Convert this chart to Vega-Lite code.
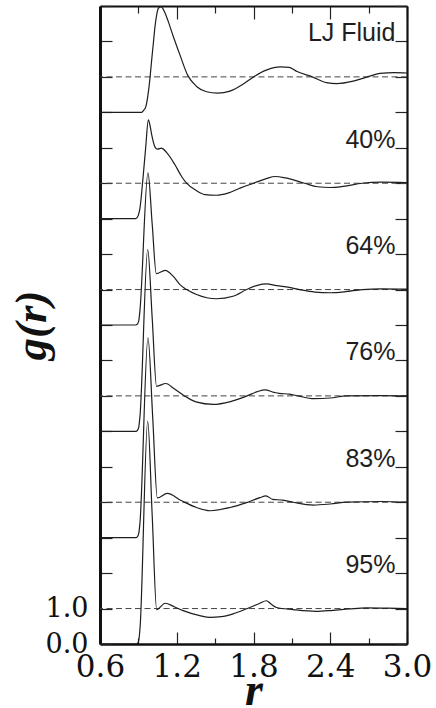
{
  "$schema": "https://vega.github.io/schema/vega-lite/v6.json",
  "width": 307,
  "height": 638,
  "autosize": {"type": "none"},
  "padding": {"left": 100, "top": 6, "right": 29, "bottom": 64},
  "background": "white",
  "config": {
    "view": {"stroke": null},
    "axis": {"grid": false, "domainColor": "#111", "tickColor": "#222", "tickWidth": 1.2, "labelColor": "#111", "titleColor": "#111", "labelOverlap": false, "labelFlush": false}
  },
  "datasets": {
    "series": [
      {"series": "LJ Fluid", "unity": 16, "tag": 17},
      {"series": "40%", "unity": 13, "tag": 14},
      {"series": "64%", "unity": 10, "tag": 11},
      {"series": "76%", "unity": 7, "tag": 8},
      {"series": "83%", "unity": 4, "tag": 5},
      {"series": "95%", "unity": 1, "tag": 2}
    ],
    "curves": [
      {"series": "LJ Fluid", "r": 0.6, "value": 15},
      {"series": "LJ Fluid", "r": 0.9, "value": 15},
      {"series": "LJ Fluid", "r": 0.926, "value": 15.0},
      {"series": "LJ Fluid", "r": 0.94, "value": 15.05},
      {"series": "LJ Fluid", "r": 0.959, "value": 15.17},
      {"series": "LJ Fluid", "r": 0.977, "value": 15.54},
      {"series": "LJ Fluid", "r": 0.991, "value": 15.98},
      {"series": "LJ Fluid", "r": 1.004, "value": 16.48},
      {"series": "LJ Fluid", "r": 1.017, "value": 16.95},
      {"series": "LJ Fluid", "r": 1.03, "value": 17.42},
      {"series": "LJ Fluid", "r": 1.043, "value": 17.75},
      {"series": "LJ Fluid", "r": 1.056, "value": 17.93},
      {"series": "LJ Fluid", "r": 1.077, "value": 17.98},
      {"series": "LJ Fluid", "r": 1.105, "value": 17.83},
      {"series": "LJ Fluid", "r": 1.134, "value": 17.56},
      {"series": "LJ Fluid", "r": 1.173, "value": 17.14},
      {"series": "LJ Fluid", "r": 1.225, "value": 16.62},
      {"series": "LJ Fluid", "r": 1.285, "value": 16.05},
      {"series": "LJ Fluid", "r": 1.355, "value": 15.73},
      {"series": "LJ Fluid", "r": 1.433, "value": 15.58},
      {"series": "LJ Fluid", "r": 1.52, "value": 15.54},
      {"series": "LJ Fluid", "r": 1.616, "value": 15.6},
      {"series": "LJ Fluid", "r": 1.72, "value": 15.8},
      {"series": "LJ Fluid", "r": 1.8, "value": 16.0},
      {"series": "LJ Fluid", "r": 1.9, "value": 16.19},
      {"series": "LJ Fluid", "r": 2.01, "value": 16.28},
      {"series": "LJ Fluid", "r": 2.08, "value": 16.27},
      {"series": "LJ Fluid", "r": 2.14, "value": 16.15},
      {"series": "LJ Fluid", "r": 2.26, "value": 16.0},
      {"series": "LJ Fluid", "r": 2.37, "value": 15.84},
      {"series": "LJ Fluid", "r": 2.45, "value": 15.81},
      {"series": "LJ Fluid", "r": 2.58, "value": 15.88},
      {"series": "LJ Fluid", "r": 2.69, "value": 16.0},
      {"series": "LJ Fluid", "r": 2.79, "value": 16.1},
      {"series": "LJ Fluid", "r": 2.9, "value": 16.12},
      {"series": "LJ Fluid", "r": 3.0, "value": 16.11},

      {"series": "40%", "r": 0.6, "value": 12},
      {"series": "40%", "r": 0.875, "value": 12},
      {"series": "40%", "r": 0.89, "value": 12.03},
      {"series": "40%", "r": 0.9, "value": 12.1},
      {"series": "40%", "r": 0.9125, "value": 12.3},
      {"series": "40%", "r": 0.935, "value": 13.1},
      {"series": "40%", "r": 0.957, "value": 14.0},
      {"series": "40%", "r": 0.978, "value": 14.79},
      {"series": "40%", "r": 0.99, "value": 14.65},
      {"series": "40%", "r": 1.004, "value": 14.37},
      {"series": "40%", "r": 1.03, "value": 14.02},
      {"series": "40%", "r": 1.05, "value": 13.96},
      {"series": "40%", "r": 1.08, "value": 13.99},
      {"series": "40%", "r": 1.12, "value": 13.87},
      {"series": "40%", "r": 1.186, "value": 13.52},
      {"series": "40%", "r": 1.238, "value": 13.19},
      {"series": "40%", "r": 1.277, "value": 13.0},
      {"series": "40%", "r": 1.35, "value": 12.8},
      {"series": "40%", "r": 1.42, "value": 12.68},
      {"series": "40%", "r": 1.51, "value": 12.66},
      {"series": "40%", "r": 1.6, "value": 12.72},
      {"series": "40%", "r": 1.7, "value": 12.87},
      {"series": "40%", "r": 1.8, "value": 13.0},
      {"series": "40%", "r": 1.9, "value": 13.13},
      {"series": "40%", "r": 1.97, "value": 13.19},
      {"series": "40%", "r": 2.05, "value": 13.15},
      {"series": "40%", "r": 2.2, "value": 13.0},
      {"series": "40%", "r": 2.3, "value": 12.9},
      {"series": "40%", "r": 2.4, "value": 12.88},
      {"series": "40%", "r": 2.5, "value": 12.91},
      {"series": "40%", "r": 2.65, "value": 13.0},
      {"series": "40%", "r": 2.8, "value": 13.03},
      {"series": "40%", "r": 3.0, "value": 13.02},

      {"series": "64%", "r": 0.6, "value": 9},
      {"series": "64%", "r": 0.88, "value": 9},
      {"series": "64%", "r": 0.893, "value": 9.03},
      {"series": "64%", "r": 0.903, "value": 9.12},
      {"series": "64%", "r": 0.912, "value": 9.4},
      {"series": "64%", "r": 0.975, "value": 13.29},
      {"series": "64%", "r": 1.008, "value": 11.85},
      {"series": "64%", "r": 1.04, "value": 10.45},
      {"series": "64%", "r": 1.11, "value": 10.54},
      {"series": "64%", "r": 1.173, "value": 10.37},
      {"series": "64%", "r": 1.225, "value": 10.14},
      {"series": "64%", "r": 1.277, "value": 10.0},
      {"series": "64%", "r": 1.355, "value": 9.86},
      {"series": "64%", "r": 1.51, "value": 9.74},
      {"series": "64%", "r": 1.64, "value": 9.81},
      {"series": "64%", "r": 1.746, "value": 10.0},
      {"series": "64%", "r": 1.83, "value": 10.12},
      {"series": "64%", "r": 1.9, "value": 10.16},
      {"series": "64%", "r": 1.98, "value": 10.11},
      {"series": "64%", "r": 2.08, "value": 10.06},
      {"series": "64%", "r": 2.16, "value": 10.0},
      {"series": "64%", "r": 2.28, "value": 9.93},
      {"series": "64%", "r": 2.4, "value": 9.91},
      {"series": "64%", "r": 2.52, "value": 9.94},
      {"series": "64%", "r": 2.65, "value": 10.0},
      {"series": "64%", "r": 2.8, "value": 10.02},
      {"series": "64%", "r": 3.0, "value": 10.01},

      {"series": "76%", "r": 0.6, "value": 6},
      {"series": "76%", "r": 0.88, "value": 6},
      {"series": "76%", "r": 0.893, "value": 6.03},
      {"series": "76%", "r": 0.903, "value": 6.12},
      {"series": "76%", "r": 0.912, "value": 6.4},
      {"series": "76%", "r": 0.973, "value": 11.13},
      {"series": "76%", "r": 1.008, "value": 9.2},
      {"series": "76%", "r": 1.042, "value": 7.27},
      {"series": "76%", "r": 1.115, "value": 7.35},
      {"series": "76%", "r": 1.18, "value": 7.2},
      {"series": "76%", "r": 1.26, "value": 7.0},
      {"series": "76%", "r": 1.35, "value": 6.83},
      {"series": "76%", "r": 1.485, "value": 6.76},
      {"series": "76%", "r": 1.62, "value": 6.84},
      {"series": "76%", "r": 1.75, "value": 7.0},
      {"series": "76%", "r": 1.83, "value": 7.12},
      {"series": "76%", "r": 1.89, "value": 7.17},
      {"series": "76%", "r": 1.96, "value": 7.1},
      {"series": "76%", "r": 2.0, "value": 7.07},
      {"series": "76%", "r": 2.08, "value": 7.05},
      {"series": "76%", "r": 2.15, "value": 7.0},
      {"series": "76%", "r": 2.27, "value": 6.92},
      {"series": "76%", "r": 2.4, "value": 6.94},
      {"series": "76%", "r": 2.53, "value": 7.0},
      {"series": "76%", "r": 2.8, "value": 7.01},
      {"series": "76%", "r": 3.0, "value": 7.0},

      {"series": "83%", "r": 0.6, "value": 3},
      {"series": "83%", "r": 0.88, "value": 3},
      {"series": "83%", "r": 0.893, "value": 3.03},
      {"series": "83%", "r": 0.903, "value": 3.12},
      {"series": "83%", "r": 0.912, "value": 3.4},
      {"series": "83%", "r": 0.975, "value": 8.64},
      {"series": "83%", "r": 1.012, "value": 6.4},
      {"series": "83%", "r": 1.048, "value": 4.12},
      {"series": "83%", "r": 1.126, "value": 4.25},
      {"series": "83%", "r": 1.238, "value": 4.04},
      {"series": "83%", "r": 1.355, "value": 3.85},
      {"series": "83%", "r": 1.46, "value": 3.76},
      {"series": "83%", "r": 1.616, "value": 3.85},
      {"series": "83%", "r": 1.746, "value": 3.99},
      {"series": "83%", "r": 1.85, "value": 4.13},
      {"series": "83%", "r": 1.897, "value": 4.18},
      {"series": "83%", "r": 1.95, "value": 4.08},
      {"series": "83%", "r": 2.03, "value": 4.06},
      {"series": "83%", "r": 2.11, "value": 4.0},
      {"series": "83%", "r": 2.27, "value": 3.92},
      {"series": "83%", "r": 2.4, "value": 3.95},
      {"series": "83%", "r": 2.53, "value": 4.0},
      {"series": "83%", "r": 2.8, "value": 4.02},
      {"series": "83%", "r": 3.0, "value": 4.0},

      {"series": "95%", "r": 0.6, "value": 0},
      {"series": "95%", "r": 0.885, "value": 0},
      {"series": "95%", "r": 0.897, "value": 0.03},
      {"series": "95%", "r": 0.905, "value": 0.15},
      {"series": "95%", "r": 0.913, "value": 0.45},
      {"series": "95%", "r": 0.973, "value": 6.29},
      {"series": "95%", "r": 1.008, "value": 3.63},
      {"series": "95%", "r": 1.043, "value": 0.97},
      {"series": "95%", "r": 1.11, "value": 1.15},
      {"series": "95%", "r": 1.18, "value": 1.05},
      {"series": "95%", "r": 1.25, "value": 0.94},
      {"series": "95%", "r": 1.38, "value": 0.8},
      {"series": "95%", "r": 1.46, "value": 0.75},
      {"series": "95%", "r": 1.55, "value": 0.77},
      {"series": "95%", "r": 1.64, "value": 0.85},
      {"series": "95%", "r": 1.77, "value": 1.03},
      {"series": "95%", "r": 1.85, "value": 1.15},
      {"series": "95%", "r": 1.9, "value": 1.22},
      {"series": "95%", "r": 1.94, "value": 1.12},
      {"series": "95%", "r": 1.98, "value": 1.03},
      {"series": "95%", "r": 2.11, "value": 0.97},
      {"series": "95%", "r": 2.29, "value": 0.92},
      {"series": "95%", "r": 2.42, "value": 0.95},
      {"series": "95%", "r": 2.55, "value": 0.99},
      {"series": "95%", "r": 2.68, "value": 1.02},
      {"series": "95%", "r": 2.85, "value": 1.01},
      {"series": "95%", "r": 3.0, "value": 1.0}
    ]
  },
  "resolve": {"axis": {"x": "independent", "y": "independent"}},
  "layer": [
    {
      "data": {"name": "series"},
      "mark": {"type": "rule", "color": "#444", "strokeWidth": 1, "strokeDash": [6, 3.5]},
      "encoding": {
        "y": {"field": "unity", "type": "quantitative", "scale": {"domain": [0, 18], "nice": false, "zero": false}, "axis": null}
      }
    },
    {
      "data": {"name": "curves"},
      "mark": {"type": "line", "interpolate": "monotone", "color": "#1e1e1e", "strokeWidth": 1.2, "clip": true},
      "encoding": {
        "x": {
          "field": "r", "type": "quantitative",
          "scale": {"domain": [0.6, 3.0], "nice": false, "zero": false},
          "axis": {
            "orient": "bottom",
            "values": [0.6, 0.9, 1.2, 1.5, 1.8, 2.1, 2.4, 2.7, 3.0],
            "tickSize": {"condition": {"test": "round(datum.value * 10) % 6 === 0", "value": -12}, "value": -6},
            "labelExpr": "round(datum.value * 10) % 6 === 0 ? format(datum.value, '.1f') : ''",
            "labelFont": "DejaVu Serif", "labelFontSize": 31, "labelPadding": 20,
            "domainWidth": 2.5,
            "title": "r", "titleFont": "Liberation Serif", "titleFontSize": 46, "titleFontStyle": "italic", "titleFontWeight": "bold",
            "titleBaseline": "alphabetic", "titleY": 60
          }
        },
        "y": {
          "field": "value", "type": "quantitative",
          "scale": {"domain": [0, 18], "nice": false, "zero": false},
          "axis": {
            "orient": "left",
            "values": [0, 1, 2, 3, 4, 5, 6, 7, 8, 9, 10, 11, 12, 13, 14, 15, 16, 17, 18],
            "tickSize": -12,
            "labelExpr": "datum.value <= 1 ? format(datum.value, '.1f') : ''",
            "labelFont": "DejaVu Serif", "labelFontSize": 27, "labelPadding": 24,
            "domainWidth": 3,
            "title": "g(r)", "titleFont": "Liberation Serif", "titleFontSize": 45, "titleFontStyle": "italic", "titleFontWeight": "bold",
            "titleAngle": -90, "titleBaseline": "alphabetic", "titleAlign": "center", "titleX": -55, "titleY": 319
          }
        },
        "detail": {"field": "series", "type": "nominal"}
      }
    },
    {
      "data": {"name": "series"},
      "mark": {"type": "text", "align": "right", "baseline": "alphabetic", "font": "Liberation Sans", "fontSize": 25, "color": "#1e1e1e"},
      "encoding": {
        "x": {
          "datum": 2.91, "type": "quantitative",
          "scale": {"domain": [0.6, 3.0], "nice": false, "zero": false},
          "axis": {
            "orient": "top",
            "values": [0.6, 0.9, 1.2, 1.5, 1.8, 2.1, 2.4, 2.7, 3.0],
            "tickSize": {"condition": {"test": "round(datum.value * 10) % 6 === 0", "value": -13}, "value": -7},
            "labels": false, "title": null, "domainWidth": 2.2
          }
        },
        "y": {
          "field": "tag", "type": "quantitative",
          "scale": {"domain": [0, 18], "nice": false, "zero": false},
          "axis": {
            "orient": "right",
            "values": [0, 1, 2, 3, 4, 5, 6, 7, 8, 9, 10, 11, 12, 13, 14, 15, 16, 17, 18],
            "tickSize": -12,
            "labels": false, "title": null, "domainWidth": 2.2
          }
        },
        "text": {"field": "series", "type": "nominal"}
      }
    }
  ]
}
